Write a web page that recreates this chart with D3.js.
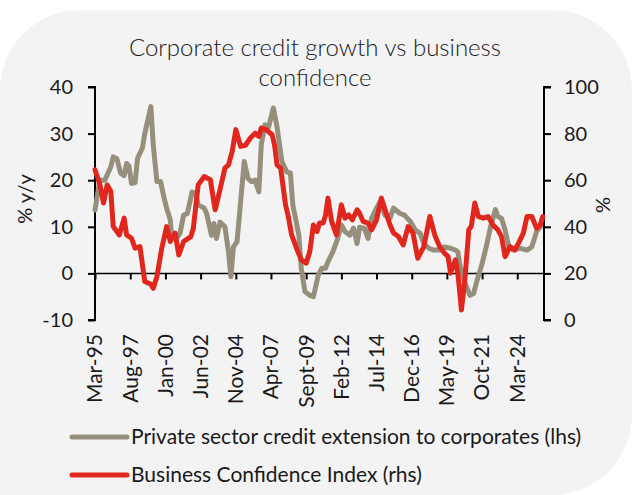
<!DOCTYPE html>
<html>
<head>
<meta charset="utf-8">
<script src="https://cdn.jsdelivr.net/npm/d3@7"></script>
<style>
  html, body { margin: 0; padding: 0; background: #ffffff; }
  svg { display: block; }
  text { font-family: Lato, "Open Sans", sans-serif; fill: #1a1a1a; }
</style>
</head>
<body>
<svg id="chart" width="632" height="495"></svg>
<script>
// Private sector credit extension to corporates, % y/y (left axis)
const creditDates = ["1995-03","1995-07","1995-11","1996-04","1996-06","1996-09","1996-12","1997-03","1997-05","1997-07","1997-09","1997-12","1998-02","1998-06","1998-08","1999-01","1999-03","1999-06","1999-09","1999-12","2000-02","2000-05","2000-06","2000-10","2001-01","2001-04","2001-07","2001-11","2002-02","2002-04","2002-09","2002-11","2003-03","2003-05","2003-07","2003-10","2004-02","2004-05","2004-07","2004-09","2004-12","2005-03","2005-06","2005-09","2005-12","2006-03","2006-06","2006-08","2006-11","2007-02","2007-06","2007-09","2008-01","2008-05","2008-08","2008-10","2009-03","2009-05","2009-08","2009-12","2010-03","2010-07","2010-10","2011-01","2011-03","2011-07","2011-11","2012-02","2012-05","2012-09","2012-12","2013-03","2013-05","2013-09","2013-12","2014-03","2014-07","2014-10","2015-02","2015-06","2015-09","2016-02","2016-06","2016-11","2017-03","2017-07","2017-10","2018-02","2018-06","2018-11","2019-03","2019-08","2019-12","2020-02","2020-04","2020-08","2020-12","2021-03","2021-06","2021-10","2022-02","2022-05","2022-09","2022-11","2023-02","2023-05","2023-08","2023-12","2024-05","2024-11","2025-03","2025-07","2025-10"];
const creditValues = [13.6,20,20,22.9,25,24.6,21.5,21,23.6,23,19.3,19.5,24.7,26.9,30,35.8,27.6,19.7,19.7,16.1,14,11.5,8.2,7.5,8.6,12.5,12.8,17.5,17,14.7,14,12.8,8.2,10.7,7.5,11,10,4.6,-0.7,5.7,6.8,15.4,24,20.4,19.7,20,17.5,27.6,31.9,31.4,35.5,31.4,24,21.8,21.5,14.7,8.2,1.1,-3.9,-4.7,-5,-0.4,1.1,1.1,2.5,4.6,7.5,10.4,9,8.2,9.7,6.4,9.9,9.7,7.5,11.8,14,15.4,12.5,11.8,14,12.9,12.5,11.1,9.3,8.6,6.4,5.4,5,5,5.7,5.4,5,4.6,1.4,-2.1,-4.7,-4.3,-1.4,2.1,6.4,10,13.7,12.2,11.8,9.3,5.7,5,5.4,5,5.7,9,10];

// Business Confidence Index, % (right axis)
const bciDates = ["1995-03","1995-07","1995-10","1996-01","1996-04","1996-06","1996-11","1997-03","1997-05","1997-09","1997-12","1998-04","1998-08","1999-01","1999-03","1999-06","1999-10","2000-02","2000-05","2000-09","2000-12","2001-04","2001-10","2001-12","2002-04","2002-09","2003-02","2003-06","2003-10","2004-02","2004-05","2004-08","2004-11","2005-03","2005-07","2005-11","2006-03","2006-06","2006-08","2006-12","2007-05","2007-07","2007-09","2007-12","2008-04","2008-06","2008-09","2009-01","2009-05","2009-09","2009-12","2010-03","2010-06","2010-08","2010-11","2011-01","2011-03","2011-06","2011-10","2012-02","2012-05","2012-08","2012-11","2013-03","2013-05","2013-08","2013-12","2014-03","2014-07","2014-11","2015-03","2015-06","2015-09","2016-01","2016-05","2016-09","2017-01","2017-05","2017-10","2018-03","2018-07","2018-11","2019-03","2019-06","2019-08","2019-12","2020-02","2020-05","2020-08","2020-11","2021-01","2021-04","2021-07","2021-11","2022-03","2022-07","2022-11","2023-02","2023-05","2023-09","2024-01","2024-04","2024-08","2024-11","2025-03","2025-07","2025-10","2025-12"];
const bciValues = [64.5,58,50.2,58,55.2,40.1,36.5,43.7,36.5,35.1,30.8,31.5,16.5,15.3,13.6,18.6,30.8,40.1,33.7,37.3,27.9,33.7,35.8,39.4,58,61.6,60.2,47.3,55.9,65.2,66.6,72.3,81.7,74.5,75,78.1,80.2,78.8,82.4,81.7,79.5,75,66.6,65.2,49.4,45.1,36.5,30.8,25.8,24.4,29.4,40.8,38,41.6,41.6,45.1,52.3,42.3,36.5,49.4,43.7,45.1,43,47.3,45.8,42.3,41.6,38.7,43,52.3,45.8,41,37.3,35.8,32.2,40.1,37.3,26.5,31.5,44.4,36.5,31.5,28.7,27.2,20.1,25.8,20.1,4.3,18.6,38.7,40.1,50.2,44.4,43.7,44.4,40.8,38.7,35.8,27.2,31.5,30.1,33,37.3,44.4,44.4,39.4,40.8,44.4];

// Category tick marks every 29 months
const tickDates = ["1995-03","1997-08","2000-01","2002-06","2004-11","2007-04","2009-09","2012-02","2014-07","2016-12","2019-05","2021-10","2024-03"];
const tickLabels = ["Mar-95","Aug-97","Jan-00","Jun-02","Nov-04","Apr-07","Sept-09","Feb-12","Jul-14","Dec-16","May-19","Oct-21","Mar-24"];

const leftTicks = [-10, 0, 10, 20, 30, 40];
const rightTicks = [0, 20, 40, 60, 80, 100];

const titleLines = ["Corporate credit growth vs business", "confidence"];
const seriesNames = ["Private sector credit extension to corporates (lhs)", "Business Confidence Index (rhs)"];
const seriesColors = ["#968f7c", "#e1271d"];

const parse = d3.timeParse("%Y-%m");
const W = 632, H = 495;
const svg = d3.select("#chart");

// Card background: rounded on three corners, square bottom-left
const R = 80, cardTop = 10;
svg.append("path")
  .attr("d", `M0,${cardTop + R} A${R},${R} 0 0 1 ${R},${cardTop} L${W - R},${cardTop} A${R},${R} 0 0 1 ${W},${cardTop + R} L${W},${H - R} A${R},${R} 0 0 1 ${W - R},${H} L0,${H} Z`)
  .attr("fill", "#f3f3f3");

const plot = { left: 95, right: 544, top: 87, bottom: 320 };

const x = d3.scaleTime()
  .domain([parse("1995-03"), parse("2026-01")])
  .range([plot.left, plot.right]);
const yL = d3.scaleLinear().domain([-10, 40]).range([plot.bottom, plot.top]);
const yR = d3.scaleLinear().domain([0, 100]).range([plot.bottom, plot.top]);

// Title
svg.append("g").selectAll("text").data(titleLines).join("text")
  .attr("x", 315).attr("y", (d, i) => 56 + i * 30)
  .attr("text-anchor", "middle")
  .style("font-size", "24px")
  .style("font-weight", 300)
  .text(d => d);

// Left axis
const axL = svg.append("g").attr("transform", `translate(${plot.left},0)`)
  .call(d3.axisLeft(yL).tickValues(leftTicks).tickSize(7).tickPadding(15).tickFormat(d => String(d)));
// Right axis
const axR = svg.append("g").attr("transform", `translate(${plot.right},0)`)
  .call(d3.axisRight(yR).tickValues(rightTicks).tickSize(7).tickPadding(13).tickFormat(d => String(d)));
[axL, axR].forEach(ax => {
  ax.select(".domain").attr("stroke", "#000").attr("stroke-width", 2).attr("d",
    ax === axL ? `M-7,${plot.top}H0V${plot.bottom}H-7` : `M7,${plot.top}H0V${plot.bottom}H7`);
  ax.selectAll(".tick line").attr("stroke", "#000").attr("stroke-width", 2);
  ax.selectAll(".tick text").style("font-size", "20px").attr("fill", "#1a1a1a").style("font-family", "Lato, sans-serif");
});

// Zero line with downward category ticks
const zeroY = yL(0);
const axX = svg.append("g").attr("transform", `translate(0,${zeroY})`)
  .call(d3.axisBottom(x).tickValues(tickDates.map(parse)).tickSize(6).tickFormat(""));
axX.select(".domain").attr("stroke", "#000").attr("stroke-width", 1.5).attr("d", `M${plot.left},0H${plot.right}`);
axX.selectAll(".tick line").attr("stroke", "#000").attr("stroke-width", 2);

// Rotated date labels below the plot
svg.append("g").selectAll("text").data(tickDates).join("text")
  .attr("transform", d => `translate(${x(parse(d))},334) rotate(-90)`)
  .attr("text-anchor", "end")
  .attr("dy", "0.35em")
  .style("font-size", "21px")
  .text((d, i) => tickLabels[i]);

// Axis titles
svg.append("text").attr("transform", "translate(25,199) rotate(-90)")
  .attr("text-anchor", "middle").attr("dy", "0.35em").style("font-size", "20px").text("% y/y");
svg.append("text").attr("transform", "translate(603,205) rotate(-90)")
  .attr("text-anchor", "middle").attr("dy", "0.35em").style("font-size", "20px").text("%");

// Series lines
const credit = creditDates.map((d, i) => ({ date: parse(d), value: creditValues[i] }));
const bci = bciDates.map((d, i) => ({ date: parse(d), value: bciValues[i] }));

svg.append("path").datum(credit)
  .attr("fill", "none").attr("stroke", seriesColors[0]).attr("stroke-width", 5)
  .attr("stroke-linejoin", "round").attr("stroke-linecap", "round")
  .attr("d", d3.line().x(d => x(d.date)).y(d => yL(d.value)));
svg.append("path").datum(bci)
  .attr("fill", "none").attr("stroke", seriesColors[1]).attr("stroke-width", 5)
  .attr("stroke-linejoin", "round").attr("stroke-linecap", "round")
  .attr("d", d3.line().x(d => x(d.date)).y(d => yR(d.value)));

// Legend
const leg = svg.append("g").selectAll("g").data(seriesNames).join("g")
  .attr("transform", (d, i) => `translate(0,${437 + i * 38})`);
leg.append("line").attr("x1", 72).attr("x2", 127).attr("y1", 0).attr("y2", 0)
  .attr("stroke", (d, i) => seriesColors[i]).attr("stroke-width", 5).attr("stroke-linecap", "round");
leg.append("text").attr("x", 131).attr("dy", "0.35em").style("font-size", "21px").text(d => d);
</script>
</body>
</html>
